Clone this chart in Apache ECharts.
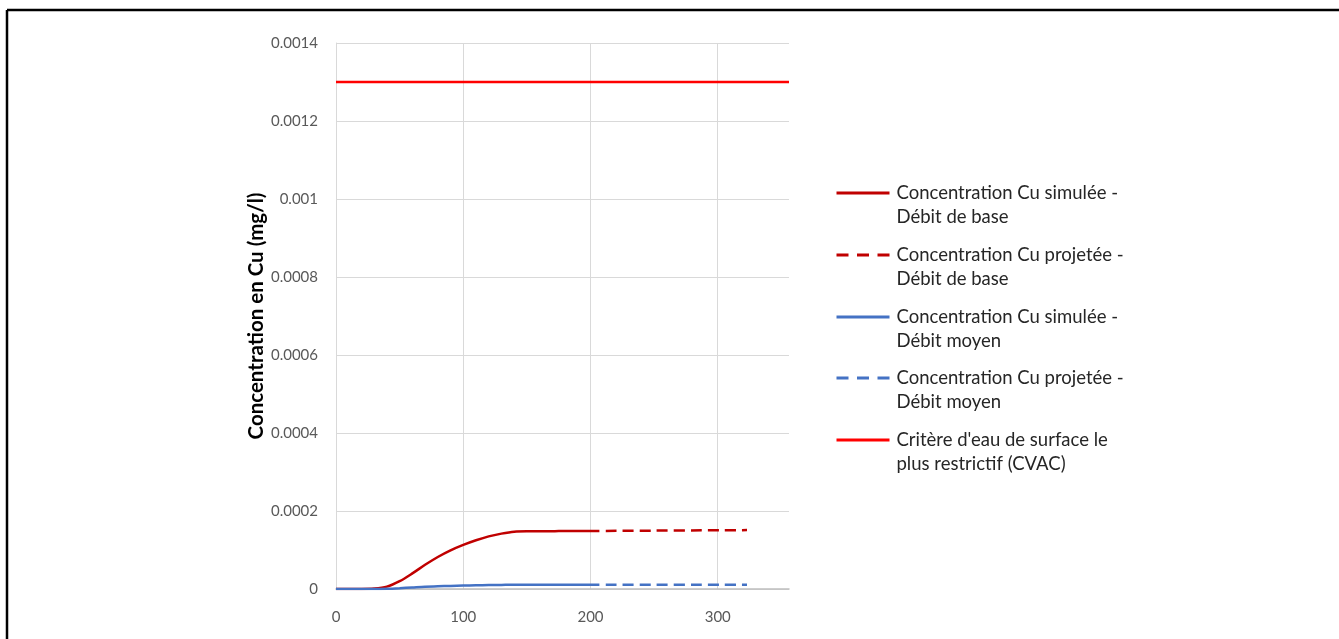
<!DOCTYPE html>
<html>
<head>
<meta charset="utf-8">
<script src="https://cdn.jsdelivr.net/npm/echarts@6/dist/echarts.min.js"></script>
<style>
html,body{margin:0;padding:0;background:#fff;}
#chart{width:1339px;height:639px;}
</style>
</head>
<body>
<div id="chart"></div>
<script>
// ---- data ----
const simX = [0, 10, 20, 30, 40, 50, 60, 70, 80, 90, 100, 110, 120, 130, 140, 150, 160, 170, 180, 190, 200, 207];
const simBase = [0, 0, 0, 0.000001, 0.000006, 0.000020, 0.000040, 0.000062, 0.000082, 0.000099, 0.000113, 0.000125, 0.000135, 0.000142, 0.000147, 0.000148, 0.000148, 0.000148, 0.000149, 0.000149, 0.000149, 0.000149];
const simMoyen = [0, 0, 0, 0, 0.0000005, 0.000002, 0.000004, 0.000006, 0.0000072, 0.000008, 0.0000088, 0.0000095, 0.000010, 0.0000105, 0.000011, 0.000011, 0.000011, 0.000011, 0.000011, 0.000011, 0.000011, 0.000011];
const projX = [212, 323];
const projBase = [0.000149, 0.000151];
const projMoyen = [0.000011, 0.000011];
const critX = [0, 356];
const critVal = [0.0013, 0.0013];
const seriesNames = [
  'Concentration Cu simulée -\nDébit de base',
  'Concentration Cu projetée -\nDébit de base',
  'Concentration Cu simulée -\nDébit moyen',
  'Concentration Cu projetée -\nDébit moyen',
  "Critère d'eau de surface le\nplus restrictif (CVAC)"
];
const dashedSeries = [false, true, false, true, false];
const yTitle = 'Concentration en Cu (mg/l)';
const xTicks = [0, 100, 200, 300];

const zip = (xs, ys) => xs.map((x, i) => [x, ys[i]]);
const FONT = 'Lato';

const chart = echarts.init(document.getElementById('chart'), null, {renderer: 'canvas'});
const lineSeries = (name, data, color, dashed, width) => ({
  name, type: 'line', data, smooth: 0.3, symbol: 'none', showSymbol: false,
  lineStyle: {color, width: width || 2.5, type: dashed ? [11, 6] : 'solid'},
  itemStyle: {color}, emphasis: {disabled: true}, animation: false, z: 3
});

const legends = seriesNames.map((name, i) => ({
  orient: 'vertical', left: 835, top: Math.round(193 + i * 61.75 - 36),
  itemWidth: 53, itemHeight: 14, itemGap: 0, padding: 0,
  data: [name],
  itemStyle: {opacity: 0},
  lineStyle: {width: 3, type: dashedSeries[i] ? [12, 8.5] : 'solid'},
  formatter: n => ' \n' + n,
  textStyle: {fontFamily: FONT, fontSize: 18.5, color: '#262626', lineHeight: 24, padding: [0, 0, 0, 2]},
  selectedMode: false
}));

chart.setOption({
  animation: false,
  textStyle: {fontFamily: FONT},
  grid: {left: 336, right: 550, top: 43, bottom: 50, containLabel: false},
  xAxis: {
    type: 'value', min: 0, max: 356, interval: 100,
    axisLine: {show: true, lineStyle: {color: '#bfbfbf', width: 1.5}},
    axisTick: {show: false},
    axisLabel: {margin: 21, color: '#595959', fontSize: 15, fontFamily: FONT, showMaxLabel: false,
      formatter: v => xTicks.includes(v) ? String(v) : ''},
    splitLine: {show: true, showMaxLine: false, lineStyle: {color: '#d9d9d9', width: 1}}
  },
  yAxis: {
    type: 'value', min: 0, max: 0.0014, interval: 0.0002,
    name: yTitle, nameLocation: 'middle', nameGap: 68,
    nameTextStyle: {fontFamily: FONT, fontWeight: 'bold', fontSize: 20.5, color: '#000'},
    axisLine: {show: true, lineStyle: {color: '#d9d9d9', width: 1}},
    axisTick: {show: false},
    axisLabel: {margin: 18, color: '#595959', fontSize: 15, fontFamily: FONT,
      formatter: v => String(+v.toFixed(4))},
    splitLine: {show: true, lineStyle: {color: '#d9d9d9', width: 1}}
  },
  legend: legends,
  graphic: [
    {type: 'line', shape: {x1: 7, y1: 10, x2: 1339, y2: 10}, style: {stroke: '#000', lineWidth: 2.5}},
    {type: 'line', shape: {x1: 7, y1: 10, x2: 7, y2: 639}, style: {stroke: '#000', lineWidth: 2.5}}
  ],
  series: [
    lineSeries(seriesNames[0], zip(simX, simBase), '#c00000', dashedSeries[0]),
    lineSeries(seriesNames[1], zip(projX, projBase), '#c00000', dashedSeries[1]),
    lineSeries(seriesNames[2], zip(simX, simMoyen), '#4472c4', dashedSeries[2]),
    lineSeries(seriesNames[3], zip(projX, projMoyen), '#4472c4', dashedSeries[3]),
    lineSeries(seriesNames[4], zip(critX, critVal), '#ff0000', dashedSeries[4])
  ]
});
</script>
</body>
</html>
